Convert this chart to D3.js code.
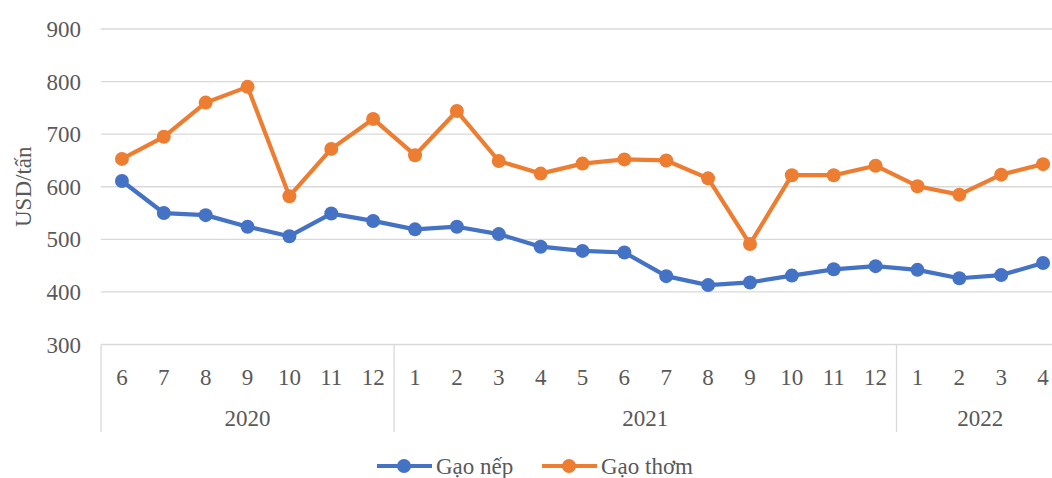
<!DOCTYPE html>
<html><head><meta charset="utf-8">
<script src="https://cdn.jsdelivr.net/npm/d3@7"></script>
<style>body{margin:0;background:#fff}svg{display:block}text{font-family:"Liberation Serif","Times New Roman",serif;fill:#595959}</style>
</head><body><svg id="c" width="1052" height="478"></svg>
<script>
const months = ["6","7","8","9","10","11","12","1","2","3","4","5","6","7","8","9","10","11","12","1","2","3","4"];
const years = [{label:"2020",start:0,end:7},{label:"2021",start:7,end:19},{label:"2022",start:19,end:23}];
const gaoNep = [611,550,546,524,506,549,535,519,524,510,486,478,475,430,413,418,431,443,449,442,426,432,455];
const gaoThom = [653,695,760,790,582,672,729,660,744,649,625,644,652,650,616,491,622,622,640,601,585,623,643];
const yTicks = [300,400,500,600,700,800,900];
const seriesNames = ["Gạo nếp","Gạo thơm"];
const colors = ["#4472C4","#ED7D31"];

const FS = 23;
const svg = d3.select("#c");
const pLeft = 101, pRight = 1064, pTop = 29, pBottom = 344.5;
const idx = d3.range(months.length);
const x = d3.scaleBand().domain(idx).range([pLeft, pRight]);
const y = d3.scaleLinear().domain([300,900]).range([pBottom, pTop]);

svg.append("g").selectAll("line").data(yTicks).join("line")
  .attr("x1", pLeft).attr("x2", 1052).attr("y1", d=>y(d)).attr("y2", d=>y(d))
  .attr("stroke", "#D9D9D9").attr("stroke-width", 1.3);
svg.append("g").selectAll("text").data(yTicks).join("text")
  .attr("x", 81).attr("y", d=>y(d)).attr("dy","0.35em").attr("text-anchor","end")
  .attr("font-size", FS).text(d=>d);
svg.append("text").attr("transform", `translate(31,${(pTop+pBottom)/2}) rotate(-90)`)
  .attr("text-anchor","middle").attr("font-size",FS).text("USD/tấn");

const sepBottom = 432;
const seps = [0, ...years.map(d=>d.end)];
svg.append("g").selectAll("line").data(seps).join("line")
  .attr("x1", d=>x.step()*d+pLeft).attr("x2", d=>x.step()*d+pLeft)
  .attr("y1", pBottom).attr("y2", sepBottom).attr("stroke","#D9D9D9").attr("stroke-width",1.3);
svg.append("g").selectAll("text").data(idx).join("text")
  .attr("x", i=>x(i)+x.bandwidth()/2).attr("y", 377).attr("dy","0.35em")
  .attr("text-anchor","middle").attr("font-size",FS).text(i=>months[i]);
svg.append("g").selectAll("text").data(years).join("text")
  .attr("x", d=>pLeft + x.step()*(d.start+d.end)/2).attr("y", 418).attr("dy","0.35em")
  .attr("text-anchor","middle").attr("font-size",FS).text(d=>d.label);

const line = d3.line().x((d,i)=>x(i)+x.bandwidth()/2).y(d=>y(d));
[gaoNep, gaoThom].forEach((s,k)=>{
  const g = svg.append("g");
  g.append("path").datum(s).attr("d", line).attr("fill","none")
    .attr("stroke", colors[k]).attr("stroke-width", 4.2).attr("stroke-linejoin","round");
  g.selectAll("circle").data(s).join("circle")
    .attr("cx",(d,i)=>x(i)+x.bandwidth()/2).attr("cy", d=>y(d)).attr("r", 7)
    .attr("fill", colors[k]);
});

const lg = [{x0:377, tx:436},{x0:542, tx:601}];
lg.forEach((p,k)=>{
  const g = svg.append("g");
  g.append("line").attr("x1",p.x0).attr("x2",p.x0+55).attr("y1",466).attr("y2",466)
    .attr("stroke",colors[k]).attr("stroke-width",4.2);
  g.append("circle").attr("cx",p.x0+27).attr("cy",466).attr("r",7).attr("fill",colors[k]);
  g.append("text").attr("x",p.tx).attr("y",466).attr("dy","0.35em").attr("font-size",FS).text(seriesNames[k]);
});
</script></body></html>
